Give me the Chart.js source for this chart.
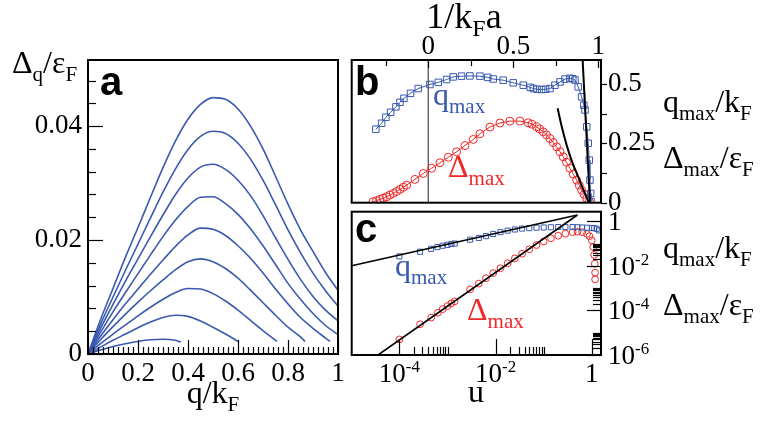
<!DOCTYPE html>
<html>
<head>
<meta charset="utf-8">
<script src="https://cdn.jsdelivr.net/npm/chart.js@4.4.0/dist/chart.umd.min.js"></script>
<style>
body { margin: 0; background: #fff; }
#wrap { position: relative; width: 763px; height: 429px; overflow: hidden; }
canvas { position: absolute; left: 0; top: 0; }
.t { position: absolute; font-family: 'Liberation Serif', 'Times New Roman', 'DejaVu Serif', serif; font-size: 32px; line-height: 32px; white-space: nowrap; color: #000; }
.t sub { font-size: 21px; vertical-align: baseline; position: relative; top: 8px; }
.big { font-size: 36px; line-height: 36px; }
.big sub { font-size: 24px; }
.mid { transform: translateX(-50%); }
.lt { position: absolute; font-family: 'Liberation Sans', Arial, sans-serif; font-weight: bold; font-size: 40px; line-height: 40px; }
.blue { color: #3a5ab0; }
.red { color: #f02828; }
</style>
</head>
<body>
<div id="wrap">
<canvas id="ca" width="763" height="429"></canvas>
<canvas id="cb" width="763" height="429"></canvas>
<canvas id="cc" width="763" height="429"></canvas>

<div class="t" style="left:12px;top:46px">&Delta;<sub>q</sub>/&epsilon;<sub>F</sub></div>
<div class="t mid" style="left:213px;top:376px">q/k<sub>F</sub></div>
<div class="t big mid" style="left:464px;top:-2px">1/k<sub>F</sub>a</div>
<div class="t mid" style="left:476px;top:375px">u</div>
<div class="t" style="left:663px;top:85px">q<sub>max</sub>/k<sub>F</sub></div>
<div class="t" style="left:663px;top:141px">&Delta;<sub>max</sub>/&epsilon;<sub>F</sub></div>
<div class="t" style="left:663px;top:231px">q<sub>max</sub>/k<sub>F</sub></div>
<div class="t" style="left:663px;top:288px">&Delta;<sub>max</sub>/&epsilon;<sub>F</sub></div>
<div class="t blue" style="left:433px;top:78px">q<sub>max</sub></div>
<div class="t red" style="left:448px;top:150px">&Delta;<sub>max</sub></div>
<div class="t blue" style="left:395px;top:249px">q<sub>max</sub></div>
<div class="t red" style="left:467px;top:293px">&Delta;<sub>max</sub></div>
<div class="lt" style="left:100px;top:61px">a</div>
<div class="lt" style="left:355px;top:61px">b</div>
<div class="lt" style="left:355px;top:208px">c</div>
</div>

<script>
const BLUE = '#3a5ab0';
const RED = '#f02828';
const SERIF = "'Liberation Serif', 'Times New Roman', 'DejaVu Serif', serif";

// ---- panel a: gap vs q for several couplings ----
const qGrid = [0, 0.05, 0.1, 0.15, 0.2, 0.25, 0.3, 0.35, 0.4, 0.45, 0.5,
               0.55, 0.6, 0.65, 0.7, 0.75, 0.8, 0.85, 0.9, 0.95, 1.0];
const gap1 = [0, 0.0060, 0.0115, 0.0170, 0.0222, 0.0275, 0.0327, 0.0374, 0.0412, 0.0438, 0.0450,
              0.0447, 0.0430, 0.0400, 0.0360, 0.0312, 0.0263, 0.0218, 0.0180, 0.0143];
const gap2 = [0, 0.0052, 0.0100, 0.0147, 0.0193, 0.0239, 0.0284, 0.0325, 0.0359, 0.0382, 0.0391,
              0.0387, 0.0370, 0.0342, 0.0305, 0.0262, 0.0218, 0.0178, 0.0142, 0.0111];
const gap3 = [0, 0.0045, 0.0087, 0.0128, 0.0167, 0.0206, 0.0244, 0.0280, 0.0309, 0.0328, 0.0333,
              0.0324, 0.0305, 0.0278, 0.0243, 0.0204, 0.0166, 0.0131, 0.0101, 0.0077];
const gap4 = [0, 0.0038, 0.0074, 0.0108, 0.0141, 0.0174, 0.0206, 0.0235, 0.0259, 0.0275, 0.0276,
              0.0264, 0.0245, 0.0220, 0.0190, 0.0157, 0.0124, 0.0096, 0.0071, 0.0050];
const gap5 = [0, 0.0031, 0.0060, 0.0088, 0.0114, 0.0140, 0.0165, 0.0189, 0.0209, 0.0221, 0.0219,
              0.0208, 0.0190, 0.0168, 0.0142, 0.0114, 0.0088, 0.0064, 0.0045, 0.0028];
const gap6 = [0, 0.0025, 0.0048, 0.0070, 0.0091, 0.0111, 0.0130, 0.0148, 0.0162, 0.0167, 0.0162,
              0.0150, 0.0133, 0.0112, 0.0090, 0.0068, 0.0047, 0.0030];
const gap7 = [0, 0.0018, 0.0035, 0.0051, 0.0067, 0.0082, 0.0096, 0.0108, 0.0115, 0.0114, 0.0106,
              0.0093, 0.0077, 0.0059, 0.0041];
const gap8 = [0, 0.0012, 0.0024, 0.0035, 0.0046, 0.0056, 0.0064, 0.0068, 0.0066, 0.0058, 0.0047,
              0.0035];
const gap9 = [0, 0.0007, 0.0013, 0.0018, 0.0022, 0.0025, 0.0026, 0.0024];
const gapEndQ = [1.0, 1.0, 1.0, 1.0, 0.968, 0.868, 0.756, 0.601, 0.372];
const gapEndD = [0.0112, 0.0084, 0.0058, 0.0034, 0.0022, 0.0022, 0.0022, 0.0022, 0.0021];

const aXTicks = [0, 0.2, 0.4, 0.6, 0.8, 1];
const aYTicks = [0, 0.02, 0.04];

// ---- panel b: q_max and gap_max vs 1/kFa ----
const bBlueX = [-0.308, -0.274, -0.249, -0.221, -0.19, -0.166, -0.143, -0.104, -0.059, 0.01,
                0.059, 0.108, 0.147, 0.196, 0.245, 0.304, 0.35, 0.382, 0.441, 0.5,
                0.559, 0.6, 0.618, 0.64, 0.667, 0.69, 0.716, 0.745, 0.775, 0.804,
                0.833, 0.85, 0.863, 0.882, 0.902, 0.915, 0.922, 0.932, 0.941, 0.947,
                0.951, 0.955, 0.957];
const bBlueY = [0.309, 0.334, 0.359, 0.380, 0.403, 0.422, 0.439, 0.460, 0.480, 0.497,
                0.506, 0.518, 0.529, 0.532, 0.533, 0.532, 0.527, 0.520, 0.515, 0.504,
                0.494, 0.485, 0.480, 0.477, 0.476, 0.477, 0.480, 0.494, 0.508, 0.520,
                0.523, 0.521, 0.516, 0.487, 0.445, 0.410, 0.390, 0.319, 0.250, 0.179,
                0.095, 0.039, 0.005];
const bRedX = [-0.324, -0.304, -0.284, -0.265, -0.245, -0.226, -0.206, -0.186, -0.166, -0.146,
               -0.127, -0.078, -0.029, 0.02, 0.069, 0.118, 0.167, 0.216, 0.265, 0.304,
               0.363, 0.422, 0.48, 0.539, 0.588, 0.61, 0.637, 0.655, 0.676, 0.695,
               0.716, 0.735, 0.755, 0.775, 0.794, 0.813, 0.833, 0.853, 0.873, 0.888,
               0.902, 0.917, 0.932, 0.947];
const bRedY = [0.004, 0.009, 0.014, 0.019, 0.025, 0.032, 0.039, 0.047, 0.056, 0.065,
               0.074, 0.098, 0.123, 0.145, 0.168, 0.191, 0.214, 0.240, 0.266, 0.290,
               0.318, 0.335, 0.343, 0.343, 0.336, 0.330, 0.319, 0.310, 0.298, 0.285,
               0.270, 0.253, 0.235, 0.214, 0.193, 0.170, 0.145, 0.120, 0.095, 0.074,
               0.053, 0.035, 0.018, 0.004];
const bFit1X = [0.908, 0.951];
const bFit1Y = [0.6, 0.0];
const bFit2X = [0.761, 0.785, 0.814, 0.843, 0.873, 0.9, 0.92, 0.945];
const bFit2Y = [0.397, 0.320, 0.242, 0.178, 0.124, 0.075, 0.042, 0.0];
const bTopTicks = [0, 0.5, 1];
const bRightTicks = [0, 0.25, 0.5];

// ---- panel c: same quantities vs u, log-log ----
const cBlueU = [1.0e-4, 2.69e-4, 4.57e-4, 6.17e-4, 7.94e-4, 1.0e-3, 1.20e-3, 1.41e-3, 2.95e-3, 4.47e-3,
                6.31e-3, 8.91e-3, 1.26e-2, 1.78e-2, 2.51e-2, 3.55e-2, 5.01e-2, 7.08e-2, 0.1, 0.141,
                0.2, 0.282, 0.398, 0.501, 0.631, 0.794, 1.0, 1.12, 1.26, 1.41];
const cBlueQ = [0.0269, 0.0437, 0.0589, 0.0708, 0.0813, 0.0891, 0.0977, 0.102, 0.151, 0.182,
                0.219, 0.275, 0.331, 0.389, 0.437, 0.479, 0.501, 0.525, 0.537, 0.550,
                0.562, 0.562, 0.562, 0.550, 0.537, 0.525, 0.513, 0.501, 0.468, 0.398];
const cRedU = [1.0e-4, 2.69e-4, 4.57e-4, 6.31e-4, 7.94e-4, 1.0e-3, 1.20e-3, 1.41e-3, 2.95e-3, 4.47e-3,
               6.31e-3, 8.91e-3, 1.26e-2, 1.78e-2, 2.51e-2, 3.55e-2, 5.01e-2, 7.08e-2, 0.1, 0.141,
               0.2, 0.282, 0.398, 0.501, 0.631, 0.794, 0.891, 1.0, 1.07, 1.12,
               1.15, 1.17, 1.17];
const cRedD = [5.01e-6, 2.40e-5, 4.79e-5, 7.94e-5, 1.15e-4, 1.58e-4, 2.09e-4, 2.57e-4, 8.91e-4, 1.62e-3,
               2.82e-3, 4.79e-3, 7.94e-3, 1.32e-2, 2.19e-2, 3.55e-2, 5.62e-2, 8.71e-2, 0.126, 0.174,
               0.229, 0.282, 0.331, 0.347, 0.331, 0.275, 0.219, 0.141, 0.0708, 0.0316,
               0.0126, 5.0e-3, 2.5e-3];
const cFitQU = [1.02e-5, 0.501];
const cFitQV = [0.0103, 1.96];
const cFitDU = [3.6e-5, 0.501];
const cFitDV = [1e-6, 1.96];
const cXTicks = [1e-4, 1e-2, 1];
const cYTicks = [1e-6, 1e-4, 1e-2, 1];

// ---- helpers ----
function pts(xs, ys) { return xs.map((x, i) => ({ x: x, y: ys[i] })); }
function setTicks(values) { return scale => { scale.ticks = values.map(v => ({ value: v })); }; }
function fixSize(w, h) { return scale => { if (w != null) scale.width = w; if (h != null) scale.height = h; }; }
function fmt(v) { return String(+v.toFixed(4)); }
function steps(from, to, step, skip) {
    const out = [];
    for (let v = from; v <= to + 1e-9; v += step) {
        const r = +v.toFixed(4);
        if (!skip.some(s => Math.abs(s - r) < 1e-9)) out.push(r);
    }
    return out;
}
function logMinor(exps) {
    const out = [];
    exps.forEach(e => { for (let k = 2; k <= 10; k++) out.push(k * Math.pow(10, e)); });
    return out;
}

const tickFont = { family: SERIF, size: 27, lineHeight: 1 };
const noGrid = { display: false, drawTicks: false };

// frame, inward/outward tick marks and log labels with superscripts
const frameTicks = {
    id: 'frameTicks',
    afterDraw(chart, args, opts) {
        const { ctx, chartArea: a } = chart;
        ctx.save();
        ctx.strokeStyle = '#000';
        ctx.lineWidth = 1.2;
        (opts.marks || []).forEach(m => {
            const s = chart.scales[m.scale];
            m.values.forEach(v => {
                const p = Math.round(s.getPixelForValue(v)) + 0.5;
                ctx.beginPath();
                if (m.side === 'bottom') { ctx.moveTo(p, a.bottom); ctx.lineTo(p, a.bottom - m.len); }
                else if (m.side === 'top') { ctx.moveTo(p, a.top); ctx.lineTo(p, a.top + m.len); }
                else if (m.side === 'left') { ctx.moveTo(a.left, p); ctx.lineTo(a.left + m.len, p); }
                else { ctx.moveTo(a.right, p); ctx.lineTo(a.right - m.len, p); }
                ctx.stroke();
            });
        });
        ctx.lineWidth = 2;
        ctx.strokeRect(a.left, a.top, a.right - a.left, a.bottom - a.top);

        const mainFont = '27px ' + SERIF;
        const supFont = '17px ' + SERIF;
        ctx.fillStyle = '#000';
        ctx.textAlign = 'left';
        ctx.textBaseline = 'alphabetic';
        (opts.logLabels || []).forEach(m => {
            const s = chart.scales[m.scale];
            m.values.forEach(v => {
                const e = Math.round(Math.log10(v));
                const base = e === 0 ? '1' : '10';
                const ex = e === 0 ? '' : String(e);
                ctx.font = mainFont;
                const w1 = ctx.measureText(base).width;
                ctx.font = supFont;
                const w2 = ex ? ctx.measureText(ex).width : 0;
                const p = s.getPixelForValue(v);
                let x, yb;
                if (m.side === 'bottom') { x = p - (w1 + w2) / 2; yb = a.bottom + 27; }
                else { x = a.right + 7; yb = p + 9; }
                ctx.font = mainFont;
                ctx.fillText(base, x, yb);
                if (ex) { ctx.font = supFont; ctx.fillText(ex, x + w1, yb - 10); }
            });
        });
        ctx.restore();
    }
};

const common = {
    responsive: false,
    animation: false,
    devicePixelRatio: 1,
    events: []
};

// ---- panel a ----
const gaps = [gap1, gap2, gap3, gap4, gap5, gap6, gap7, gap8, gap9];
const aSets = gaps.map((g, k) => {
    const data = g.map((d, i) => ({ x: qGrid[i], y: d }));
    data.push({ x: gapEndQ[k], y: gapEndD[k] });
    return {
        data: data, showLine: true, borderColor: BLUE, borderWidth: 1.6,
        pointRadius: 0, cubicInterpolationMode: 'monotone', fill: false
    };
});

new Chart(document.getElementById('ca'), {
    type: 'scatter',
    data: { datasets: aSets },
    options: Object.assign({}, common, {
        layout: { padding: { left: 0, top: 60, right: 425, bottom: 25 } },
        plugins: {
            legend: { display: false }, tooltip: { enabled: false },
            frameTicks: {
                marks: [
                    { scale: 'x', side: 'bottom', len: 14, values: aXTicks },
                    { scale: 'x', side: 'bottom', len: 7, values: steps(0.02, 0.98, 0.02, aXTicks) },
                    { scale: 'y', side: 'left', len: 15, values: aYTicks },
                    { scale: 'y', side: 'left', len: 8, values: steps(0.004, 0.048, 0.004, aYTicks) }
                ]
            }
        },
        scales: {
            x: {
                type: 'linear', min: 0, max: 1, grid: noGrid, border: { display: false },
                afterBuildTicks: setTicks(aXTicks), afterFit: fixSize(null, 50),
                ticks: { font: tickFont, color: '#000', padding: 6, maxRotation: 0, autoSkip: false, callback: fmt }
            },
            y: {
                type: 'linear', min: 0, max: 0.0516, grid: noGrid, border: { display: false },
                afterBuildTicks: setTicks(aYTicks), afterFit: fixSize(88, null),
                ticks: { font: tickFont, color: '#000', padding: 6, autoSkip: false, callback: fmt }
            }
        }
    }),
    plugins: [frameTicks]
});

// ---- panel b ----
new Chart(document.getElementById('cb'), {
    type: 'scatter',
    data: {
        datasets: [
            { data: pts(bFit1X, bFit1Y), showLine: true, borderColor: '#000', borderWidth: 2, pointRadius: 0 },
            { data: pts(bFit2X, bFit2Y), showLine: true, borderColor: '#000', borderWidth: 2, pointRadius: 0,
              cubicInterpolationMode: 'monotone' },
            { data: pts(bBlueX, bBlueY), showLine: true, borderColor: BLUE, borderWidth: 1,
              pointStyle: 'rect', pointRadius: 4.6, pointBorderColor: BLUE, pointBackgroundColor: 'rgba(0,0,0,0)',
              pointBorderWidth: 1 },
            { data: pts(bRedX, bRedY), showLine: true, borderColor: RED, borderWidth: 1,
              pointStyle: 'circle', pointRadius: 4, pointBorderColor: RED, pointBackgroundColor: 'rgba(0,0,0,0)',
              pointBorderWidth: 1 },
            { data: [{ x: 0, y: 0 }, { x: 0, y: 0.6 }], showLine: true, borderColor: '#222', borderWidth: 1, pointRadius: 0 }
        ]
    },
    options: Object.assign({}, common, {
        layout: { padding: { left: 351.7, top: 0, right: 102, bottom: 226.3 } },
        plugins: {
            legend: { display: false }, tooltip: { enabled: false },
            frameTicks: {
                marks: [
                    { scale: 'x', side: 'top', len: 8, values: bTopTicks },
                    { scale: 'x', side: 'top', len: 6, values: [-0.25, 0.25, 0.75] },
                    { scale: 'y', side: 'right', len: -6, values: [0, 0.125, 0.25, 0.375, 0.5] }
                ]
            }
        },
        scales: {
            x: {
                type: 'linear', position: 'top', min: -0.45, max: 1.016, grid: noGrid, border: { display: false },
                afterBuildTicks: setTicks(bTopTicks), afterFit: fixSize(null, 60),
                ticks: { font: tickFont, color: '#000', padding: 0, maxRotation: 0, autoSkip: false, callback: fmt }
            },
            y: {
                type: 'linear', position: 'right', min: 0, max: 0.6, grid: noGrid, border: { display: false },
                afterBuildTicks: setTicks(bRightTicks), afterFit: fixSize(60, null),
                ticks: { font: tickFont, color: '#000', padding: 7, autoSkip: false, callback: fmt }
            }
        }
    }),
    plugins: [frameTicks]
});

// ---- panel c ----
new Chart(document.getElementById('cc'), {
    type: 'scatter',
    data: {
        datasets: [
            { data: pts(cFitQU, cFitQV), showLine: true, borderColor: '#000', borderWidth: 1.6, pointRadius: 0 },
            { data: pts(cFitDU, cFitDV), showLine: true, borderColor: '#000', borderWidth: 1.6, pointRadius: 0 },
            { data: pts(cBlueU, cBlueQ), showLine: false, pointStyle: 'rect', pointRadius: 3.6,
              pointBorderColor: BLUE, pointBackgroundColor: 'rgba(0,0,0,0)', pointBorderWidth: 1 },
            { data: pts(cRedU, cRedD), showLine: false, pointStyle: 'circle', pointRadius: 3.4,
              pointBorderColor: RED, pointBackgroundColor: 'rgba(0,0,0,0)', pointBorderWidth: 1 }
        ]
    },
    options: Object.assign({}, common, {
        layout: { padding: { left: 351.7, top: 211.7, right: 102, bottom: 34 } },
        plugins: {
            legend: { display: false }, tooltip: { enabled: false },
            frameTicks: {
                marks: [
                    { scale: 'x', side: 'bottom', len: 16, values: cXTicks },
                    { scale: 'x', side: 'bottom', len: 8, values: logMinor([-4, -2]) },
                    { scale: 'y', side: 'right', len: 14, values: cYTicks },
                    { scale: 'y', side: 'right', len: 8, values: logMinor([-6, -4, -2]) }
                ],
                logLabels: [
                    { scale: 'x', side: 'bottom', values: cXTicks },
                    { scale: 'y', side: 'right', values: cYTicks }
                ]
            }
        },
        scales: {
            x: {
                type: 'logarithmic', min: 1.02e-5, max: 1.55, grid: noGrid, border: { display: false },
                afterBuildTicks: setTicks(cXTicks), afterFit: fixSize(null, 40),
                ticks: { display: false }
            },
            y: {
                type: 'logarithmic', position: 'right', min: 1e-6, max: 2.75, grid: noGrid, border: { display: false },
                afterBuildTicks: setTicks(cYTicks), afterFit: fixSize(60, null),
                ticks: { display: false }
            }
        }
    }),
    plugins: [frameTicks]
});
</script>
</body>
</html>
